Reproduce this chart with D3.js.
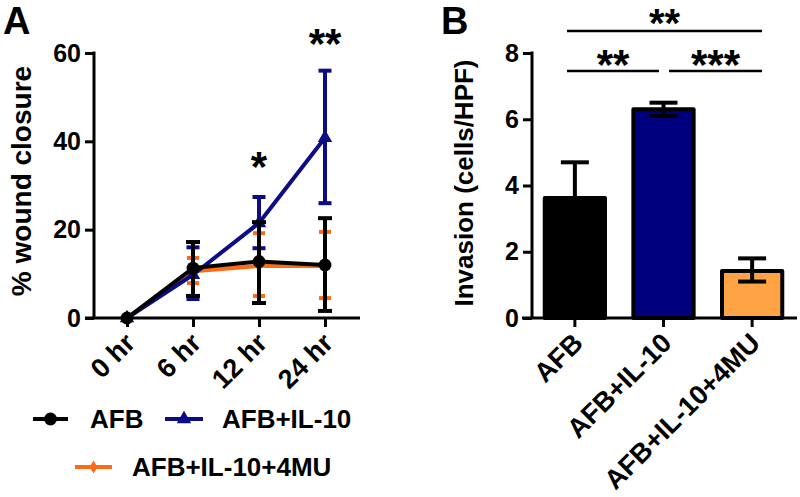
<!DOCTYPE html>
<html>
<head>
<meta charset="utf-8">
<script src="https://cdn.jsdelivr.net/npm/d3@7"></script>
<style>
  html, body { margin: 0; padding: 0; background: #fff; }
  svg { display: block; font-family: "Liberation Sans", Arial, sans-serif; font-weight: bold; }
</style>
</head>
<body>
<svg id="chart" width="800" height="497"></svg>
<script>
// ---------- Panel A data ----------
const timepoints = ["0 hr", "6 hr", "12 hr", "24 hr"];
const afbMean = [0, 11.3, 12.8, 12.0];
const afbLow  = [0, 5.0, 3.4, 1.6];
const afbHigh = [0, 17.2, 21.7, 22.6];
const il10Mean = [0, 9.8, 21.5, 40.8];
const il10Low  = [0, 4.3, 15.8, 26.0];
const il10High = [0, 16.0, 27.4, 56.0];
const mu4Mean = [0, 10.6, 11.8, 11.8];
const mu4Low  = [0, 7.9, 5.0, 4.5];
const mu4High = [0, 13.6, 19.2, 19.5];
const yTicksA = [0, 20, 40, 60];
const starsA = [{t: "12 hr", label: "*", y: 181}, {t: "24 hr", label: "**", y: 58}];

// ---------- Panel B data ----------
const groups = ["AFB", "AFB+IL-10", "AFB+IL-10+4MU"];
const invMean = [3.62, 6.3, 1.42];
const invLow  = [null, 6.1, 1.1];
const invHigh = [4.7, 6.5, 1.8];
const yTicksB = [0, 2, 4, 6, 8];

const cBlack = "#000000", cBlue = "#0c0c84", cOrange = "#ff6a14";
const barFills = ["#000000", "#00007f", "#ffa345"];

const svg = d3.select("#chart");

// ================= PANEL A =================
const xA = d3.scalePoint().domain(timepoints).range([127, 325]);
const yA = d3.scaleLinear().domain([0, 60]).range([318, 53]);

const gA = svg.append("g");
const yAxisA = d3.axisLeft(yA).tickValues(yTicksA).tickSize(9).tickPadding(4);
gA.append("g").attr("transform", "translate(94,0)").call(yAxisA)
  .call(g => g.select(".domain").remove())
  .call(g => g.selectAll(".tick line").attr("stroke", "#000").attr("stroke-width", 3))
  .call(g => g.selectAll(".tick text").attr("font-size", 25).attr("font-weight", "bold")
    .attr("font-family", "Liberation Sans, Arial, sans-serif").attr("fill", "#000"));
gA.append("line").attr("x1", 94).attr("x2", 94).attr("y1", yA(60) - 1.5).attr("y2", yA(0))
  .attr("stroke", "#000").attr("stroke-width", 3);
const xAxisA = d3.axisBottom(xA).tickSize(9).tickFormat("");
gA.append("g").attr("transform", "translate(0,318)").call(xAxisA)
  .call(g => g.select(".domain").remove())
  .call(g => g.selectAll(".tick line").attr("stroke", "#000").attr("stroke-width", 3));
gA.append("line").attr("x1", 85).attr("x2", 360).attr("y1", 318).attr("y2", 318)
  .attr("stroke", "#000").attr("stroke-width", 3);
gA.selectAll("text.xlabA").data(timepoints).enter().append("text")
  .attr("class", "xlabA")
  .attr("transform", d => `translate(${xA(d) + 3},${338}) rotate(-45)`)
  .attr("text-anchor", "end").attr("dy", "0.35em")
  .attr("font-size", 27).text(d => d);

gA.append("text").attr("transform", "translate(31,181) rotate(-90)")
  .attr("text-anchor", "middle").attr("font-size", 28).text("% wound closure");
gA.append("text").attr("x", 3).attr("y", 34).attr("font-size", 38).text("A");

function drawSeries(mean, low, high, color, marker, capW) {
  const g = gA.append("g");
  timepoints.forEach((t, i) => {
    if (high[i] === low[i]) return;
    const x = xA(t);
    g.append("line").attr("x1", x).attr("x2", x).attr("y1", yA(high[i])).attr("y2", yA(low[i]))
      .attr("stroke", color).attr("stroke-width", 4);
    [high[i], low[i]].forEach(v => {
      g.append("line").attr("x1", x - capW / 2).attr("x2", x + capW / 2)
        .attr("y1", yA(v)).attr("y2", yA(v)).attr("stroke", color).attr("stroke-width", 4);
    });
  });
  const line = d3.line().x((d, i) => xA(timepoints[i])).y(d => yA(d));
  g.append("path").datum(mean).attr("d", line).attr("fill", "none")
    .attr("stroke", color).attr("stroke-width", 4).attr("stroke-linejoin", "round");
  g.selectAll("path.m").data(mean).enter().append("path").attr("class", "m")
    .attr("transform", (d, i) => `translate(${xA(timepoints[i])},${yA(d)})`)
    .attr("d", d3.symbol().type(marker.type).size(marker.size))
    .attr("fill", color);
}
drawSeries(mu4Mean, mu4Low, mu4High, cOrange, {type: d3.symbolDiamond, size: 50}, 12);
drawSeries(il10Mean, il10Low, il10High, cBlue, {type: d3.symbolTriangle, size: 90}, 13);
drawSeries(afbMean, afbLow, afbHigh, cBlack, {type: d3.symbolCircle, size: 130}, 14);

starsA.forEach(s => {
  gA.append("text").attr("x", xA(s.t)).attr("y", s.y).attr("text-anchor", "middle")
    .attr("font-size", 42).text(s.label);
});

const legend = [
  {name: "AFB", color: cBlack, type: d3.symbolCircle, size: 130, x1: 33, x2: 68, y: 419, tx: 90},
  {name: "AFB+IL-10", color: cBlue, type: d3.symbolTriangle, size: 90, x1: 165, x2: 203, y: 419, tx: 222},
  {name: "AFB+IL-10+4MU", color: cOrange, type: d3.symbolDiamond, size: 50, x1: 75, x2: 112, y: 467, tx: 132}
];
legend.forEach(l => {
  gA.append("line").attr("x1", l.x1).attr("x2", l.x2).attr("y1", l.y).attr("y2", l.y)
    .attr("stroke", l.color).attr("stroke-width", 4);
  gA.append("path").attr("transform", `translate(${(l.x1 + l.x2) / 2},${l.y})`)
    .attr("d", d3.symbol().type(l.type).size(l.size)).attr("fill", l.color);
  gA.append("text").attr("x", l.tx).attr("y", l.y + 9).attr("font-size", 26).text(l.name);
});

// ================= PANEL B =================
const xB = d3.scaleBand().domain(groups).range([531, 796]).paddingInner(0.32).paddingOuter(0.155);
const yB = d3.scaleLinear().domain([0, 8]).range([318, 53]);
const gB = svg.append("g");

gB.selectAll("rect.bar").data(groups).enter().append("rect").attr("class", "bar")
  .attr("x", d => xB(d)).attr("width", xB.bandwidth())
  .attr("y", (d, i) => yB(invMean[i])).attr("height", (d, i) => yB(0) - yB(invMean[i]))
  .attr("fill", (d, i) => barFills[i]).attr("stroke", "#000").attr("stroke-width", 4)
  .attr("stroke-linejoin", "round");

groups.forEach((g, i) => {
  const cx = xB(g) + xB.bandwidth() / 2;
  const lo = invLow[i] === null ? invMean[i] : invLow[i];
  gB.append("line").attr("x1", cx).attr("x2", cx).attr("y1", yB(invHigh[i])).attr("y2", yB(lo))
    .attr("stroke", "#000").attr("stroke-width", 4);
  const caps = invLow[i] === null ? [invHigh[i]] : [invHigh[i], invLow[i]];
  caps.forEach(v => {
    gB.append("line").attr("x1", cx - 14).attr("x2", cx + 14).attr("y1", yB(v)).attr("y2", yB(v))
      .attr("stroke", "#000").attr("stroke-width", 4);
  });
});

const yAxisB = d3.axisLeft(yB).tickValues(yTicksB).tickSize(9).tickPadding(4);
gB.append("g").attr("transform", "translate(532,0)").call(yAxisB)
  .call(g => g.select(".domain").remove())
  .call(g => g.selectAll(".tick line").attr("stroke", "#000").attr("stroke-width", 3))
  .call(g => g.selectAll(".tick text").attr("font-size", 25).attr("font-weight", "bold")
    .attr("font-family", "Liberation Sans, Arial, sans-serif").attr("fill", "#000"));
gB.append("line").attr("x1", 532).attr("x2", 532).attr("y1", yB(8) - 1.5).attr("y2", yB(0))
  .attr("stroke", "#000").attr("stroke-width", 3);
gB.append("line").attr("x1", 522).attr("x2", 797).attr("y1", 318).attr("y2", 318)
  .attr("stroke", "#000").attr("stroke-width", 3);
gB.selectAll("line.xt").data(groups).enter().append("line").attr("class", "xt")
  .attr("x1", d => xB(d) + xB.bandwidth() / 2).attr("x2", d => xB(d) + xB.bandwidth() / 2)
  .attr("y1", 318).attr("y2", 327).attr("stroke", "#000").attr("stroke-width", 3);
gB.selectAll("text.xlabB").data(groups).enter().append("text").attr("class", "xlabB")
  .attr("transform", d => `translate(${xB(d) + xB.bandwidth() / 2 + 3},338) rotate(-45)`)
  .attr("text-anchor", "end").attr("dy", "0.35em").attr("font-size", 27).text(d => d);

gB.append("text").attr("transform", "translate(473,183) rotate(-90)")
  .attr("text-anchor", "middle").attr("font-size", 26).text("Invasion (cells/HPF)");
gB.append("text").attr("x", 441).attr("y", 34).attr("font-size", 38).text("B");

const sig = [
  {label: "**", y: 31, ty: 37, x1: 567, x2: 762, fs: 40},
  {label: "**", y: 71, ty: 79, x1: 567, x2: 659, fs: 42},
  {label: "***", y: 71, ty: 79, x1: 669, x2: 762, fs: 42}
];
sig.forEach(s => {
  gB.append("line").attr("x1", s.x1).attr("x2", s.x2).attr("y1", s.y).attr("y2", s.y)
    .attr("stroke", "#000").attr("stroke-width", 2.5);
  gB.append("text").attr("x", (s.x1 + s.x2) / 2).attr("y", s.ty).attr("text-anchor", "middle")
    .attr("font-size", s.fs).text(s.label);
});
</script>
</body>
</html>
